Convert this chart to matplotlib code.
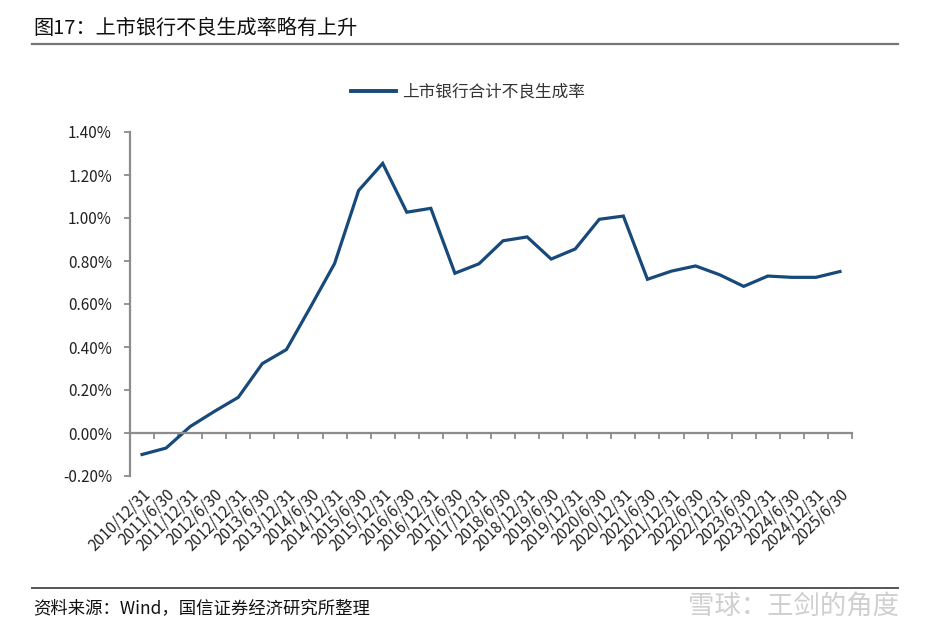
import matplotlib
matplotlib.use("Agg")
import matplotlib.pyplot as plt
from matplotlib.lines import Line2D
import numpy as np

plt.rcParams['font.family'] = ['Noto Sans CJK SC', 'DejaVu Sans']
plt.rcParams['axes.unicode_minus'] = False

# 数据
periods = ['2010/12/31', '2011/6/30', '2011/12/31', '2012/6/30', '2012/12/31',
           '2013/6/30', '2013/12/31', '2014/6/30', '2014/12/31', '2015/6/30',
           '2015/12/31', '2016/6/30', '2016/12/31', '2017/6/30', '2017/12/31',
           '2018/6/30', '2018/12/31', '2019/6/30', '2019/12/31', '2020/6/30',
           '2020/12/31', '2021/6/30', '2021/12/31', '2022/6/30', '2022/12/31',
           '2023/6/30', '2023/12/31', '2024/6/30', '2024/12/31', '2025/6/30']
npl_gen_rate = [-0.10, -0.07, 0.03, 0.10, 0.166,
                0.323, 0.388, 0.586, 0.788, 1.128,
                1.254, 1.027, 1.045, 0.743, 0.787,
                0.894, 0.912, 0.809, 0.856, 0.994,
                1.009, 0.715, 0.753, 0.777, 0.736,
                0.682, 0.730, 0.724, 0.724, 0.751]
y_ticks = [-0.2, 0.0, 0.2, 0.4, 0.6, 0.8, 1.0, 1.2, 1.4]
series_name = '上市银行合计不良生成率'
title = '图17：上市银行不良生成率略有上升'
source = '资料来源：Wind，国信证券经济研究所整理'
watermark = '雪球：王剑的角度'

line_color = '#17497A'
axis_gray = '#8C8C8C'
text_col = '#222222'

fig = plt.figure(figsize=(9.26, 6.36), dpi=100)
ax = fig.add_axes([130/926, 1-476/636, 722/926, 344/636])

x = np.arange(len(periods))
ax.plot(x, npl_gen_rate, color=line_color, lw=2.3, solid_joinstyle='miter')

ax.set_xlim(-0.5, len(periods) - 0.5)
ax.set_ylim(-0.2, 1.4)

# y轴
ax.set_yticks(y_ticks)
ax.set_yticklabels([f'{v:.2f}%' for v in y_ticks], fontsize=11, color=text_col)
ax.tick_params(axis='y', direction='out', length=4, width=1.3, color=axis_gray, pad=9)

# x轴线在0处
ax.spines['bottom'].set_position(('data', 0))
ax.spines['bottom'].set_color(axis_gray)
ax.spines['bottom'].set_linewidth(1.6)
ax.spines['left'].set_color(axis_gray)
ax.spines['left'].set_linewidth(1.6)
ax.spines['top'].set_visible(False)
ax.spines['right'].set_visible(False)
ax.set_xticks([])
ax.set_xticks(np.arange(0.5, len(periods), 1), minor=True)
ax.tick_params(axis='x', which='minor', direction='out', length=4, width=1.3,
               color=axis_gray, labelbottom=False)

sec = ax.secondary_xaxis('bottom')
sec.spines['bottom'].set_visible(False)
sec.set_xticks(x)
sec.set_xticklabels(periods, rotation=45, ha='right', rotation_mode='anchor',
                    fontsize=11, color=text_col)
sec.tick_params(axis='x', length=0, pad=7)

# 图例
leg = ax.legend([Line2D([], [], color=line_color, lw=2.8)], [series_name],
                loc='center', bbox_to_anchor=(468/926, 1-92/636),
                bbox_transform=fig.transFigure, frameon=False,
                fontsize=12, handlelength=2.7, handletextpad=0.4)
for t in leg.get_texts():
    t.set_color('#333333')

# 标题与分隔线
fig.text(33/926, 1-28/636, title, fontsize=14.5, color='#111111', va='center', ha='left')
fig.add_artist(Line2D([32/926, 898/926], [1-44/636, 1-44/636], color='#777777', lw=1.6))
fig.add_artist(Line2D([32/926, 898/926], [1-588/636, 1-588/636], color='#555555', lw=1.4))
fig.text(33/926, 1-608/636, source, fontsize=12.5, color='#111111', va='center', ha='left')
fig.text(899/926, 1-606/636, watermark, fontsize=19, color='#CFCFCF', va='center', ha='right')

fig.savefig('out.png', dpi=100)
